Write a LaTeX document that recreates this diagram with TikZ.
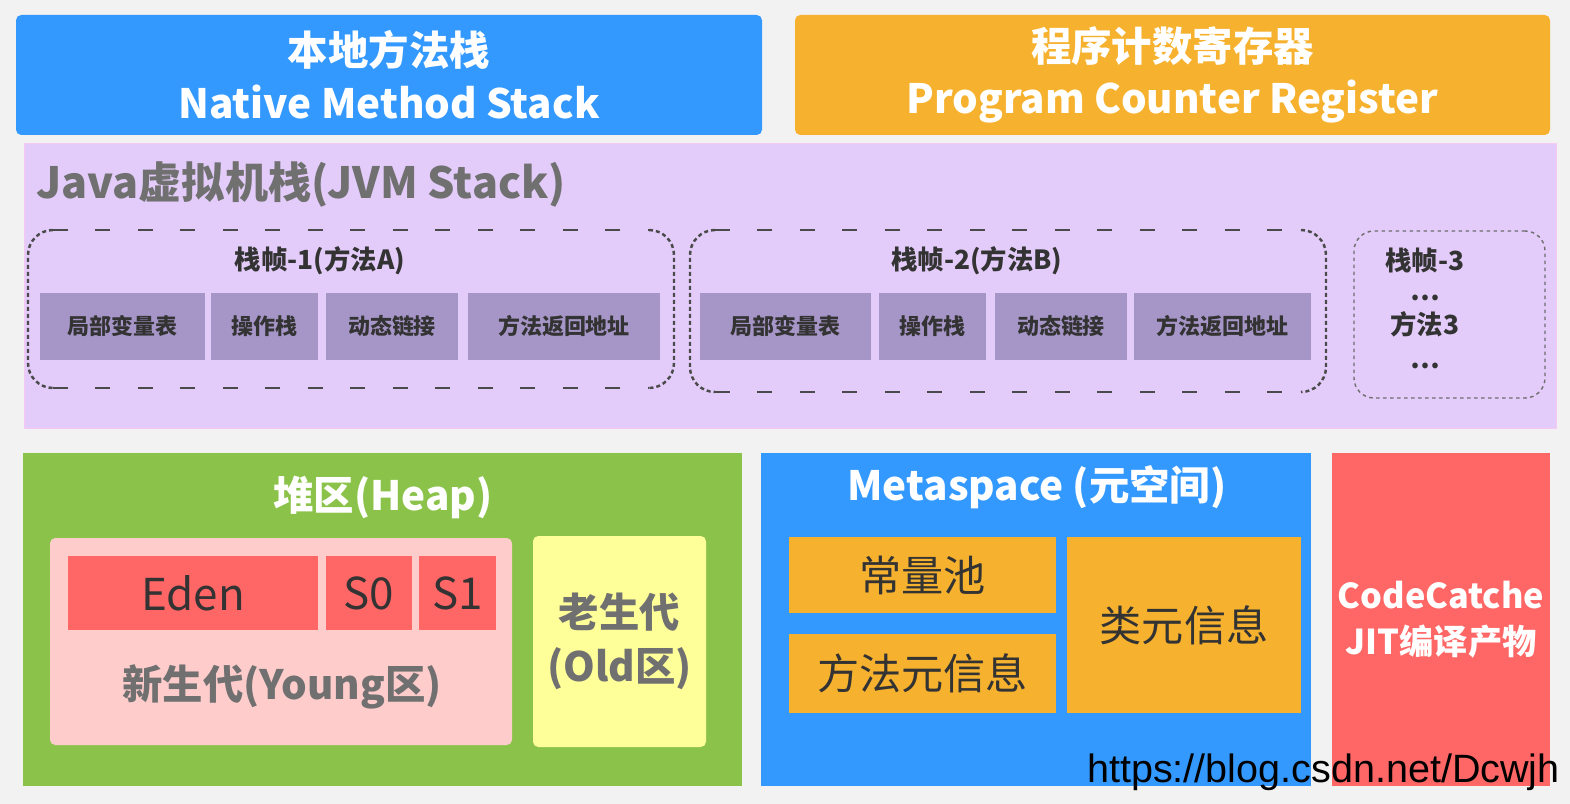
\documentclass[tikz,border=0pt]{standalone}
\usepackage{fontspec}
\setmainfont{Noto Sans CJK SC}
\newfontfamily\wmfont{Liberation Sans}

\definecolor{bgc}{HTML}{F2F2F2}
\definecolor{natblue}{HTML}{3399FF}
\definecolor{pcorange}{HTML}{F6B22F}
\definecolor{jvmbg}{HTML}{E3CCFA}
\definecolor{jvmline}{HTML}{F6C8F4}
\definecolor{cellc}{HTML}{A695C7}
\definecolor{framec}{HTML}{4A4A4A}
\definecolor{heapgreen}{HTML}{8BC34A}
\definecolor{youngpink}{HTML}{FFCCCC}
\definecolor{edenred}{HTML}{FF6666}
\definecolor{oldyellow}{HTML}{FFFF99}
\definecolor{titlegray}{HTML}{707070}
\definecolor{textdark}{HTML}{333333}

\tikzset{
  area/.style 2 args={minimum width=#1*0.02cm, minimum height=#2*0.02cm, inner sep=0pt, outer sep=0pt},
  whitetitle/.style={text=white, align=center, font=\bfseries\fontsize{23}{30}\selectfont},
  graytitle/.style={text=titlegray, align=center, font=\bfseries\fontsize{23}{28}\selectfont},
  frametitle/.style={text=textdark, inner sep=0pt, font=\bfseries\fontsize{15}{18}\selectfont},
  cell/.style={fill=cellc, text=textdark, font=\bfseries\fontsize{12.5}{15}\selectfont},
  metacell/.style={fill=pcorange, text=textdark, font=\fontsize{24}{28}\selectfont},
  longdash/.style={draw=framec, line width=1.1pt, dash pattern=on 0.3cm off 0.55cm},
  sidedash/.style={draw=framec, line width=1.4pt, dash pattern=on 0.08cm off 0.06cm},
  finedash/.style={draw=framec!80, line width=0.8pt, dash pattern=on 0.07cm off 0.07cm, rounded corners=0.4cm}
}

% frame: long dashes on top and bottom, short ones on the sides
\newcommand{\dashframe}[1]{%
  \draw[longdash] ([xshift=0.5cm]#1.north west) -- ([xshift=-0.5cm]#1.north east);
  \draw[longdash] ([xshift=0.5cm]#1.south west) -- ([xshift=-0.5cm]#1.south east);
  \draw[sidedash, rounded corners=0.5cm] ([xshift=0.5cm]#1.north west) -- (#1.north west) -- (#1.south west) -- ([xshift=0.5cm]#1.south west);
  \draw[sidedash, rounded corners=0.5cm] ([xshift=-0.5cm]#1.north east) -- (#1.north east) -- (#1.south east) -- ([xshift=-0.5cm]#1.south east);
}

\begin{document}
\begin{tikzpicture}[x=0.02cm, y=-0.02cm]
\fill[bgc] (0,0) rectangle (1570,804);

% top row
\node[area={746}{120}, fill=natblue, rounded corners=3pt, whitetitle] (native) at (389,75) {本地方法栈\\Native Method Stack};
\node[area={755}{120}, fill=pcorange, rounded corners=3pt, whitetitle] (pcreg) at (1172.5,75) {程序计数寄存器\\Program Counter Register};

% jvm stack
\node[area={1532}{285}, fill=jvmbg, draw=jvmline] (jvm) at (790,285.5) {};
\node[graytitle, anchor=west, inner sep=0pt, font=\bfseries\fontsize{24.5}{28}\selectfont] (jvmtitle) at (36,185) {Java虚拟机栈(JVM Stack)};

\node[area={646}{158}] (frameA) at (351,309) {};
\dashframe{frameA}
\node[frametitle] (titleA) at (320,261) {栈帧-1(方法A)};
\node[cell, area={165}{67}] (varsA) at (122.5,326.5) {局部变量表};
\node[cell, area={107}{67}] (opsA) at (264.5,326.5) {操作栈};
\node[cell, area={132}{67}] (linkA) at (392,326.5) {动态链接};
\node[cell, area={192}{67}] (retA) at (564,326.5) {方法返回地址};

\node[area={636}{162}] (frameB) at (1008,311) {};
\dashframe{frameB}
\node[frametitle] (titleB) at (977,261) {栈帧-2(方法B)};
\node[cell, area={171}{67}] (varsB) at (785.5,326.5) {局部变量表};
\node[cell, area={107}{67}] (opsB) at (932.5,326.5) {操作栈};
\node[cell, area={132}{67}] (linkB) at (1061,326.5) {动态链接};
\node[cell, area={177}{67}] (retB) at (1222.5,326.5) {方法返回地址};

\node[area={191}{167}, finedash, draw] (frameC) at (1449.5,314.5) {};
\node[frametitle] (titleC) at (1425,261) {栈帧-3};
\node[frametitle] (dotsC1) at (1425,298) {…};
\node[frametitle] (methC) at (1425,324) {方法3};
\node[frametitle] (dotsC2) at (1425,366) {…};

% heap
\node[area={719}{333}, fill=heapgreen] (heap) at (382.5,619.5) {};
\node[whitetitle] (heaptitle) at (383,497) {堆区(Heap)};
\node[area={462}{207}, fill=youngpink, rounded corners=3pt] (young) at (281,641.5) {};
\node[area={250}{74}, fill=edenred, text=textdark, font=\fontsize{25}{28}\selectfont] (eden) at (193,593) {Eden};
\node[area={86}{74}, fill=edenred, text=textdark, font=\fontsize{25}{28}\selectfont] (szero) at (369,593) {S0};
\node[area={77}{74}, fill=edenred, text=textdark, font=\fontsize{25}{28}\selectfont] (sone) at (457.5,593) {S1};
\node[graytitle] (youngtitle) at (282,687) {新生代(Young区)};
\node[area={173}{211}, fill=oldyellow, rounded corners=3pt, graytitle, font=\bfseries\fontsize{23}{31}\selectfont] (old) at (619.5,641.5) {老生代\\(Old区)};

% metaspace
\node[area={550}{333}, fill=natblue] (meta) at (1036,619.5) {};
\node[whitetitle] (metatitle) at (1037,487) {Metaspace (元空间)};
\node[metacell, area={267}{76}] (pool) at (922.5,575) {常量池};
\node[metacell, area={267}{79}] (methinfo) at (922.5,673.5) {方法元信息};
\node[metacell, area={234}{176}] (classinfo) at (1184,625) {类元信息};

% code cache
\node[area={218}{333}, fill=edenred, text=white, align=center, font=\bfseries\fontsize{19.5}{26}\selectfont] (code) at (1441,619.5) {CodeCatche\\JIT编译产物};

\node[anchor=base east, inner sep=0pt, font=\wmfont\fontsize{22.5}{26}\selectfont] (mark) at (1560,782) {https://blog.csdn.net/Dcwjh};
\end{tikzpicture}
\end{document}
